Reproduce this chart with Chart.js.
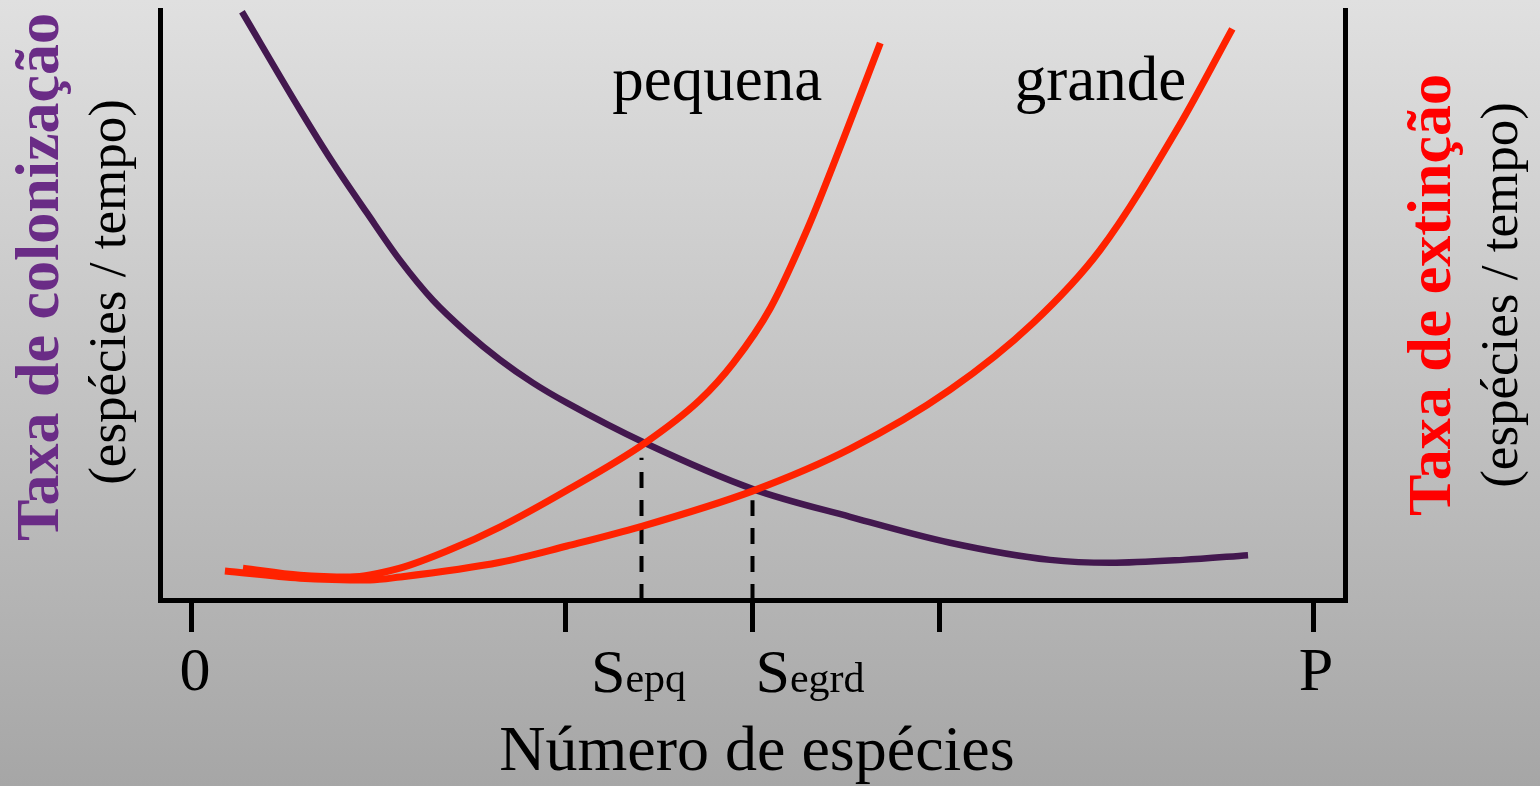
<!DOCTYPE html>
<html lang="pt">
<head>
<meta charset="utf-8">
<title>Taxa de colonização e extinção</title>
<script src="https://cdn.jsdelivr.net/npm/chart.js@4.4.1/dist/chart.umd.min.js"></script>
<style>
  html, body { margin: 0; padding: 0; }
  body {
    width: 1540px; height: 786px; overflow: hidden;
    background: linear-gradient(to bottom, #e0e0e0, #a6a6a6);
  }
  canvas { display: block; }
</style>
</head>
<body>
<canvas id="grafico" width="1540" height="786"></canvas>
<script>
// curva de colonização (roxa)
const colonX = [4.46, 9.63, 12.58, 15.61, 18.55, 21.5, 24.53, 27.48, 30.42, 33.45, 40.41, 50.04, 58.7, 67.62, 76.54, 81.89, 88.4, 94.2];
const colonY = [99.7, 83.1, 74.1, 65.6, 57.6, 50.8, 45.3, 40.7, 36.8, 33.4, 26.6, 18.8, 14.1, 9.7, 6.8, 6.3, 6.8, 7.6];

// extinção, ilha pequena
const pequenaX = [4.55, 9.63, 14.1, 18.55, 23.0, 27.5, 33.45, 40.4, 45.3, 48.3, 51.6, 54.9, 58.1, 61.4];
const pequenaY = [5.4, 4.2, 3.9, 5.4, 8.5, 12.4, 18.6, 26.6, 33.9, 40.2, 49.5, 62.9, 78.1, 94.4];

// extinção, ilha grande
const grandeX = [2.94, 9.63, 15.9, 18.55, 27.5, 33.45, 39.96, 50.04, 58.7, 67.6, 75.0, 81.0, 88.1, 92.8];
const grandeY = [4.9, 3.7, 3.4, 3.9, 6.4, 9.15, 12.4, 18.5, 25.6, 35.6, 46.9, 59.3, 80.5, 96.8];

// eixo x
const xMin = -2.85, xMax = 102.85;
const tickValues = [0, 100 / 3, 50, 200 / 3, 100];
const tickLabels = ["0", "", "", "", "P"];

// pontos de equilíbrio
const sEpq = 40.1, sEpqTop = 24.1;
const sEgrd = 50.0, sEgrdTop = 16.9;

const serif = '"Liberation Serif", "Times New Roman", serif';
const roxo = "#43184f";
const vermelho = "#ff2200";

const pts = (xs, ys) => xs.map((x, i) => ({ x, y: ys[i] }));

const textos = {
    id: "textos",
    afterDraw(chart) {
        const { ctx, scales: { x, y } } = chart;
        ctx.save();
        ctx.fillStyle = "#000";
        ctx.textBaseline = "alphabetic";

        // rótulos das curvas
        ctx.font = `63px ${serif}`;
        ctx.textAlign = "left";
        ctx.fillText("pequena", x.getPixelForValue(37.5), y.getPixelForValue(84.7));
        ctx.fillText("grande", x.getPixelForValue(73.4), y.getPixelForValue(84.7));

        // S com subscrito
        const base = x.top + 92;
        function sub(main, small, px, align) {
            ctx.font = `62px ${serif}`;
            const w1 = ctx.measureText(main).width;
            ctx.font = `42px ${serif}`;
            const w2 = ctx.measureText(small).width;
            let left = align === "center" ? px - (w1 + w2) / 2 : px;
            ctx.textAlign = "left";
            ctx.font = `62px ${serif}`;
            ctx.fillText(main, left, base);
            ctx.font = `42px ${serif}`;
            ctx.fillText(small, left + w1, base);
        }
        sub("S", "epq", x.getPixelForValue(sEpq) - 3, "center");
        sub("S", "egrd", x.getPixelForValue(sEgrd) + 3, "left");

        // título do eixo x
        ctx.textAlign = "center";
        ctx.font = `64px ${serif}`;
        ctx.fillText("Número de espécies", 757, 770);

        // títulos verticais
        function vert(txt, cx, cy, font, color) {
            ctx.save();
            ctx.translate(cx, cy);
            ctx.rotate(-Math.PI / 2);
            ctx.font = font;
            ctx.fillStyle = color;
            ctx.textAlign = "center";
            ctx.fillText(txt, 0, 0);
            ctx.restore();
        }
        const grad = ctx.createLinearGradient(0, 10, 0, 545);
        grad.addColorStop(0, "#6a2c86");
        grad.addColorStop(1, "#4a1762");
        vert("Taxa de colonização", 58, 277, `bold 62px ${serif}`, grad);
        vert("(espécies / tempo)", 125, 292, `53px ${serif}`, "#000");
        vert("Taxa de extinção", 1450, 295, `bold 62px ${serif}`, "#ff0000");
        vert("(espécies / tempo)", 1517, 295, `53px ${serif}`, "#000");
        ctx.restore();
    }
};

const curva = (data, color, w) => ({
    data, borderColor: color, borderWidth: w, pointRadius: 0,
    cubicInterpolationMode: "monotone", fill: false, clip: false
});
// tracejado desenhado de baixo para cima, como no original
const tracejado = (x0, yTop) => ({
    data: [{ x: x0, y: 0 }, { x: x0, y: yTop }],
    borderColor: "#000", borderWidth: 4, borderDash: [16, 12],
    pointRadius: 0, tension: 0, fill: false
});

new Chart(document.getElementById("grafico"), {
    type: "line",
    data: {
        datasets: [
            curva(pts(pequenaX, pequenaY), vermelho, 7),
            curva(pts(grandeX, grandeY), vermelho, 7),
            curva(pts(colonX, colonY), roxo, 6.5),
            tracejado(sEpq, sEpqTop),
            tracejado(sEgrd, sEgrdTop)
        ]
    },
    options: {
        responsive: false,
        devicePixelRatio: 1,
        animation: false,
        layout: { padding: { top: 10, left: 0, right: 0, bottom: 0 } },
        plugins: { legend: { display: false }, tooltip: { enabled: false } },
        scales: {
            x: {
                type: "linear", position: "bottom", min: xMin, max: xMax,
                afterBuildTicks: s => { s.ticks = tickValues.map(v => ({ value: v })); },
                afterFit: s => { s.height = 186; },
                grid: {
                    drawOnChartArea: false, tickLength: 32, tickWidth: 5,
                    tickColor: "#000", color: "#000", lineWidth: 5
                },
                border: { display: true, width: 5, color: "#000" },
                ticks: {
                    autoSkip: false, maxRotation: 0, padding: 5, labelOffset: 3, color: "#000",
                    font: { family: serif, size: 62 },
                    callback: (v, i) => tickLabels[i]
                }
            },
            y: {
                position: "left", min: 0, max: 100,
                afterFit: s => { s.width = 160; },
                grid: { drawOnChartArea: false, drawTicks: false, color: "#000", lineWidth: 5 },
                border: { display: true, width: 5, color: "#000" },
                ticks: { display: false }
            },
            y2: {
                position: "right", min: 0, max: 100,
                afterFit: s => { s.width = 195; },
                grid: { drawOnChartArea: false, drawTicks: false, color: "#000", lineWidth: 5 },
                border: { display: true, width: 5, color: "#000" },
                ticks: { display: false }
            }
        }
    },
    plugins: [textos]
});
</script>
</body>
</html>
